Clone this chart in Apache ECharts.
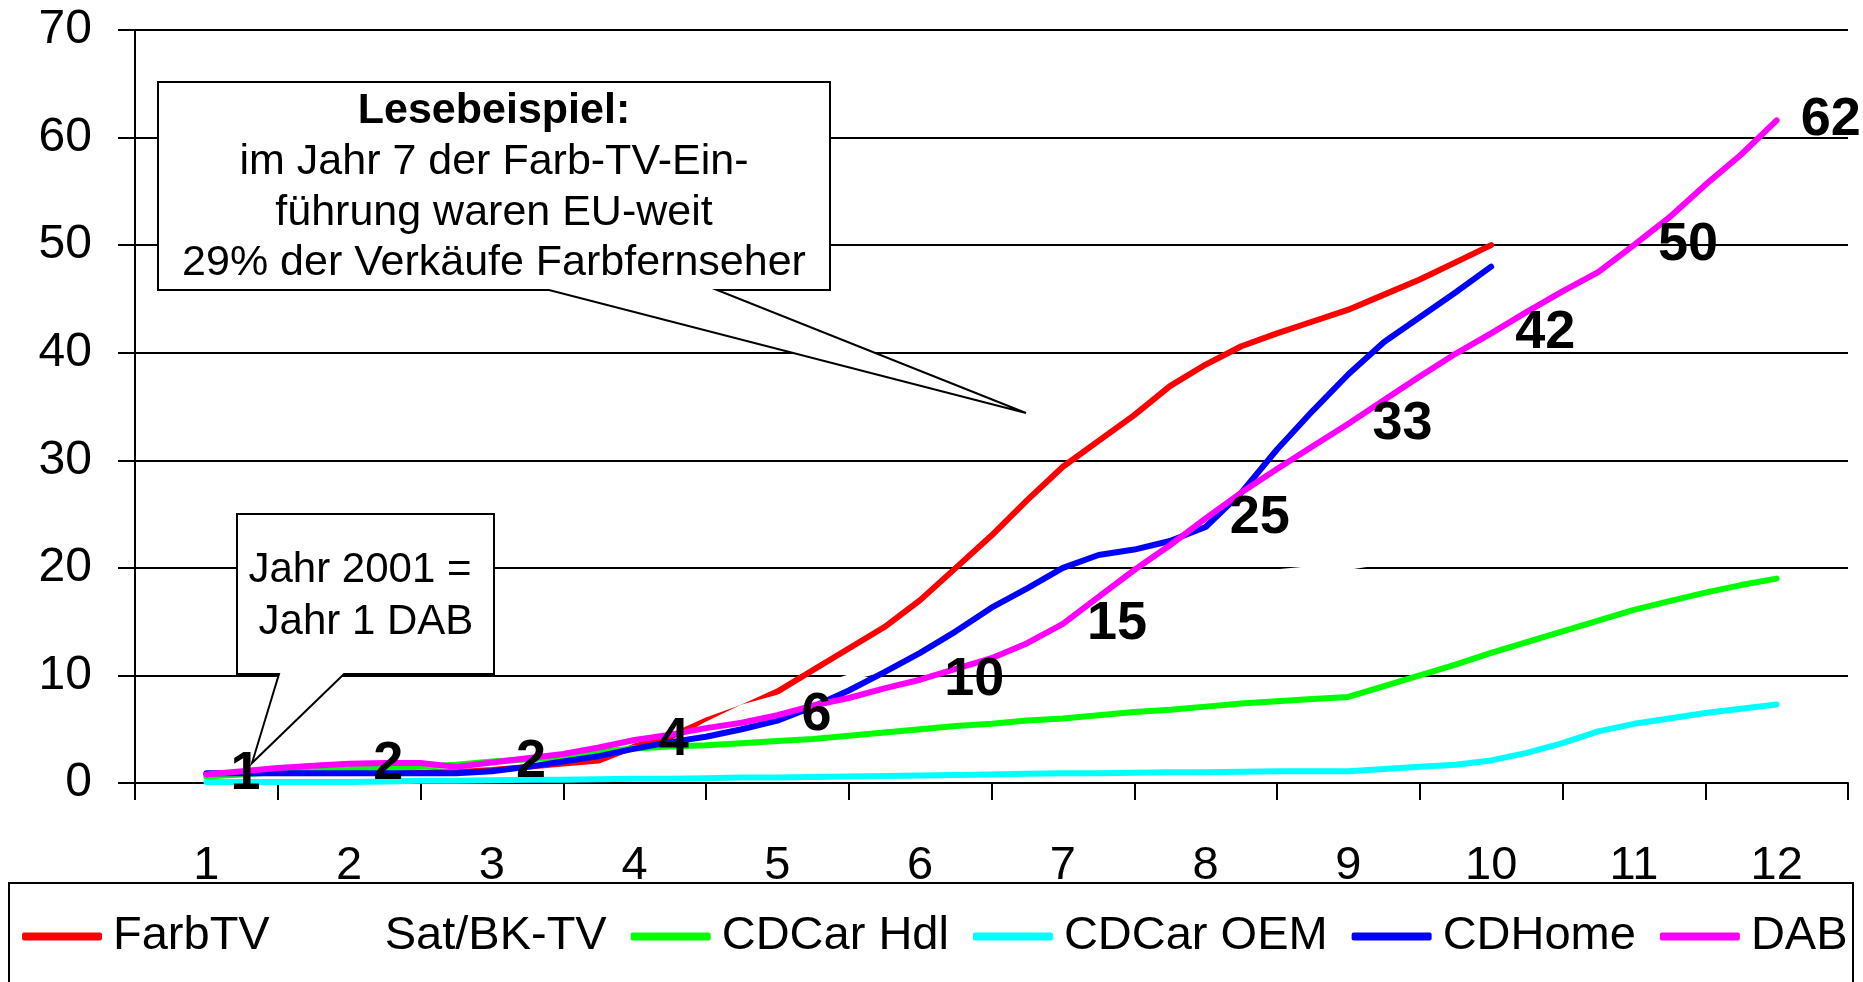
<!DOCTYPE html>
<html>
<head>
<meta charset="utf-8">
<script src="https://cdn.jsdelivr.net/npm/echarts@6/dist/echarts.min.js"></script>
<style>
html,body{margin:0;padding:0;background:#ffffff;}
#chart{width:1863px;height:982px;}
</style>
</head>
<body>
<div id="chart"></div>
<script>
// ---- Data ----
const years = ['1','2','3','4','5','6','7','8','9','10','11','12'];
// quarterly positions along the year axis (1, 1.25, ... 12)
const quarterPos = [];
for (let i = 0; i <= 44; i++) quarterPos.push(1 + i * 0.25);

const farbTV = [0.8,0.9,1.0,1.0, 1.0,1.0,1.0,1.0, 1.2,1.5,1.8,2.1, 3.4,4.3,5.8,7.0,
  8.5,10.5,12.5,14.5, 17.0,20.0,23.0,26.3, 29.4,31.8,34.2,36.9, 38.9,40.6,41.8,42.9,
  44.0,45.4,46.8,48.4, 50.0];
const satBK = [0.6,0.8,1.0,1.1, 1.3,1.4,1.5,1.7, 2.0,2.2,2.4,2.9, 3.2,3.4,5.4,7.0,
  7.9,8.8,9.8,10.6, 11.4,12.2,13.0,13.8, 14.6,15.4,16.2,17.0, 17.8,18.8,19.6,19.9,
  20.1,20.6,21.2,21.8, 22.4];
const cdCarHdl = [0.6,0.8,1.0,1.1, 1.3,1.4,1.5,1.7, 2.0,2.2,2.4,2.9, 3.2,3.4,3.5,3.7,
  3.9,4.1,4.4,4.7, 5.0,5.3,5.5,5.8, 6.0,6.3,6.6,6.8, 7.1,7.4,7.6,7.8,
  8.0,9.0,10.0,11.0, 12.1,13.1,14.1,15.1, 16.1,16.9,17.7,18.4, 19.0];
const cdCarOEM = [0.1,0.1,0.1,0.1, 0.1,0.15,0.2,0.2, 0.25,0.3,0.3,0.35, 0.4,0.4,0.45,0.5,
  0.5,0.55,0.6,0.65, 0.7,0.75,0.8,0.85, 0.9,0.9,0.95,1.0, 1.0,1.05,1.1,1.1,
  1.1,1.3,1.5,1.7, 2.1,2.8,3.7,4.8, 5.5,6.0,6.5,6.9, 7.3];
const cdHome = [0.9,0.9,0.9,0.9, 0.9,0.9,0.9,0.9, 1.1,1.5,2.0,2.5, 3.2,3.8,4.3,5.0,
  5.8,7.1,8.6,10.3, 12.1,14.1,16.3,18.1, 20.0,21.2,21.7,22.5, 23.8,27.0,31.0,34.6,
  38.0,41.0,43.3,45.6, 48.0];
const dab = [0.8,1.1,1.4,1.6, 1.8,1.85,1.85,1.5, 1.9,2.3,2.7,3.3, 4.0,4.5,5.1,5.6,
  6.3,7.2,7.9,8.8, 9.6,10.6,11.6,13.0, 14.8,17.3,19.8,22.1, 24.6,27.0,29.2,31.3,
  33.4,35.6,37.8,39.9, 41.8,43.8,45.7,47.5, 50.0,52.6,55.6,58.4, 61.6];
const dabLabels = ['1','2','2','4','6','10','15','25','33','42','50','62'];

const seriesNames = ['FarbTV','Sat/BK-TV','CDCar Hdl','CDCar OEM','CDHome','DAB'];
const seriesColors = ['#ff0000','#ffffff','#00ff00','#00ffff','#0000ff','#ff00ff'];
const seriesValues = [farbTV, satBK, cdCarHdl, cdCarOEM, cdHome, dab];

const yTicks = { min: 0, max: 70, step: 10 };

// ---- Chart ----
const FONT = "'Liberation Sans', Arial, Helvetica, sans-serif";
const chart = echarts.init(document.getElementById('chart'), null, {renderer: 'canvas'});

function pairs(vals) {
  const out = [];
  vals.forEach((v, i) => { if (v !== null && v !== undefined) out.push([quarterPos[i], v]); });
  return out;
}

const lineSeries = seriesNames.map((name, k) => ({
  name: name,
  type: 'line',
  xAxisIndex: 1,
  yAxisIndex: 0,
  data: pairs(seriesValues[k]),
  symbol: 'none',
  showSymbol: false,
  animation: false,
  color: seriesColors[k],
  lineStyle: { color: seriesColors[k], width: 6, cap: 'round', join: 'round' },
  emphasis: { disabled: true },
  z: 2
}));

// DAB value labels at the whole-year points
const dabLabelPoints = years.map((y, i) => ({
  value: [quarterPos[i * 4], dab[i * 4]],
  label: { formatter: dabLabels[i] }
}));

lineSeries.push({
  name: 'DAB-Werte',
  type: 'scatter',
  xAxisIndex: 1,
  yAxisIndex: 0,
  data: dabLabelPoints,
  symbolSize: 0,
  animation: false,
  silent: true,
  z: 5,
  itemStyle: { opacity: 1, color: '#000' },
  label: {
    show: true,
    position: 'right',
    distance: 24,
    fontSize: 54,
    fontWeight: 'bold',
    fontFamily: FONT,
    color: '#000000',
    opacity: 1
  }
});

const option = {
  backgroundColor: '#ffffff',
  animation: false,
  grid: { left: 135, right: 15, top: 30, bottom: 199, containLabel: false },
  xAxis: [
    {
      type: 'category',
      data: years,
      position: 'bottom',
      boundaryGap: true,
      axisLine: { show: true, lineStyle: { color: '#000', width: 2 } },
      axisTick: { show: true, length: 17, interval: 0, alignWithLabel: false, lineStyle: { color: '#000', width: 2 } },
      axisLabel: { fontSize: 47, color: '#000', fontFamily: FONT, margin: 60, interval: 0 },
      splitLine: { show: false }
    },
    {
      type: 'value',
      min: 0.5,
      max: 12.5,
      position: 'top',
      show: false
    }
  ],
  yAxis: [{
    type: 'value',
    min: yTicks.min,
    max: yTicks.max,
    interval: yTicks.step,
    axisLine: { show: true, lineStyle: { color: '#000', width: 2 } },
    axisTick: { show: true, length: 17, lineStyle: { color: '#000', width: 2 } },
    axisLabel: { fontSize: 48, color: '#000', fontFamily: FONT, margin: 43 },
    splitLine: { show: true, lineStyle: { color: '#000', width: 2 } }
  }],
  legend: {
    data: seriesNames,
    left: 22,
    top: 913,
    orient: 'horizontal',
    icon: 'roundRect',
    itemWidth: 80,
    itemHeight: 8,
    itemGap: 24,
    padding: 0,
    selectedMode: false,
    textStyle: { fontSize: 47, color: '#000', fontFamily: FONT, padding: [0, 0, 0, 6] }
  },
  graphic: [
    // legend frame
    {
      type: 'rect', z: 1, silent: true,
      shape: { x: 9, y: 883, width: 1844, height: 130 },
      style: { fill: 'none', stroke: '#000', lineWidth: 2 }
    },
    // "Lesebeispiel" callout
    {
      type: 'polygon', z: 50, silent: true,
      shape: { points: [[158,82],[830,82],[830,290],[717,290],[1026,413],[549,290],[158,290]] },
      style: { fill: '#fff', stroke: '#000', lineWidth: 2 }
    },
    { type: 'text', z: 51, silent: true, style: { text: 'Lesebeispiel:', x: 494, y: 111, align: 'center', verticalAlign: 'middle', fontSize: 43, fontWeight: 'bold', fontFamily: FONT, fill: '#000' } },
    { type: 'text', z: 51, silent: true, style: { text: 'im Jahr 7 der Farb-TV-Ein-', x: 494, y: 162, align: 'center', verticalAlign: 'middle', fontSize: 43, fontFamily: FONT, fill: '#000' } },
    { type: 'text', z: 51, silent: true, style: { text: 'führung waren EU-weit', x: 494, y: 213, align: 'center', verticalAlign: 'middle', fontSize: 43, fontFamily: FONT, fill: '#000' } },
    { type: 'text', z: 51, silent: true, style: { text: '29% der Verkäufe Farbfernseher', x: 494, y: 263, align: 'center', verticalAlign: 'middle', fontSize: 43, fontFamily: FONT, fill: '#000' } },
    // "Jahr 2001" callout
    {
      type: 'polygon', z: 50, silent: true,
      shape: { points: [[237,514],[494,514],[494,674],[344,674],[252,763],[279,674],[237,674]] },
      style: { fill: '#fff', stroke: '#000', lineWidth: 2 }
    },
    { type: 'text', z: 51, silent: true, style: { text: 'Jahr 2001 =', x: 360, y: 570, align: 'center', verticalAlign: 'middle', fontSize: 42, fontFamily: FONT, fill: '#000' } },
    { type: 'text', z: 51, silent: true, style: { text: 'Jahr 1 DAB', x: 366, y: 622, align: 'center', verticalAlign: 'middle', fontSize: 42, fontFamily: FONT, fill: '#000' } }
  ],
  series: lineSeries
};

chart.setOption(option);
</script>
</body>
</html>
